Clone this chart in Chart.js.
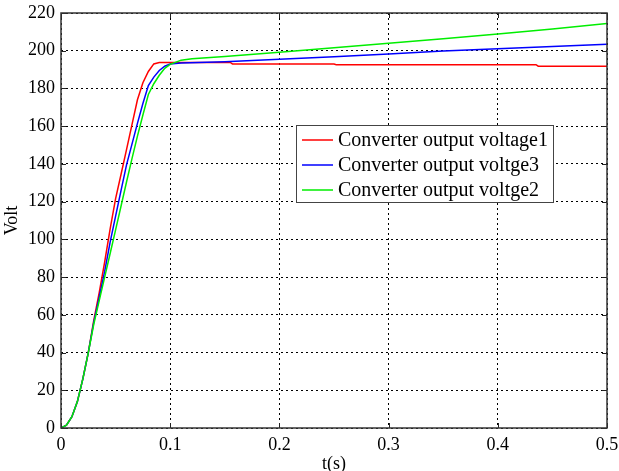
<!DOCTYPE html>
<html>
<head>
<meta charset="utf-8">
<script src="https://cdn.jsdelivr.net/npm/chart.js@4/dist/chart.umd.min.js"></script>
<style>
  html, body { margin: 0; padding: 0; background: #fff; }
  canvas { display: block; }
</style>
</head>
<body>
<canvas id="c" width="619" height="471"></canvas>
<script>
// ---- Data ----
const seriesNames = ["Converter output voltage1", "Converter output voltge3", "Converter output voltge2"];

const redTime = [0, 0.005, 0.01, 0.015, 0.02, 0.025, 0.03, 0.035, 0.04, 0.045, 0.05, 0.055, 0.06, 0.065, 0.07, 0.075, 0.08, 0.085, 0.09, 0.155, 0.157, 0.25, 0.252, 0.435, 0.437, 0.5];
const redVolt = [0, 1.5, 6, 14, 26, 40, 57, 71.8, 88, 105.6, 121.6, 134.5, 147.6, 160.8, 174, 183, 189, 193, 193.8, 193.8, 193, 193, 192.6, 192.6, 191.8, 191.8];

const blueTime = [0, 0.005, 0.01, 0.015, 0.02, 0.025, 0.03, 0.035, 0.04, 0.045, 0.05, 0.055, 0.06, 0.065, 0.07, 0.075, 0.08, 0.085, 0.09, 0.095, 0.1, 0.11, 0.15, 0.2, 0.25, 0.3, 0.35, 0.4, 0.45, 0.5];
const blueVolt = [0, 1.5, 6, 14, 26, 40, 56, 69.3, 83, 98.5, 112.3, 126, 139.5, 150.5, 161.5, 172, 181.5, 186, 189.5, 191.8, 193, 193.5, 194.2, 195.5, 196.8, 198.3, 199.8, 201.1, 202.3, 203.4];

const greenTime = [0, 0.005, 0.01, 0.015, 0.02, 0.025, 0.03, 0.035, 0.04, 0.045, 0.05, 0.055, 0.06, 0.065, 0.07, 0.075, 0.08, 0.085, 0.09, 0.095, 0.1, 0.11, 0.12, 0.15, 0.2, 0.25, 0.3, 0.35, 0.4, 0.45, 0.5];
const greenVolt = [0, 1.5, 6, 14, 26, 40, 55, 67.5, 80, 92.5, 105, 117.7, 130.4, 142.8, 154.7, 165.9, 176.8, 182.5, 187, 190.7, 192.8, 195, 195.8, 197, 199.2, 201.6, 204, 206.3, 208.9, 211.5, 214.4];

const xTicks = [0, 0.1, 0.2, 0.3, 0.4, 0.5];
const yTicks = [0, 20, 40, 60, 80, 100, 120, 140, 160, 180, 200, 220];
const xTitle = "t(s)";
const yTitle = "Volt";

// ---- Build ----
const toPts = (t, v) => t.map((x, i) => ({ x: x, y: v[i] }));
const colors = ["#ff0000", "#0000ff", "#00ee00"];
const FONT = '"Liberation Serif", "Times New Roman", serif';

const frameAndLegend = {
  id: 'frameAndLegend',
  afterDatasetsDraw(chart) {
    const ctx = chart.ctx;
    const ca = chart.chartArea;
    const xs = chart.scales.x, ys = chart.scales.y;
    ctx.save();
    // inward ticks
    ctx.strokeStyle = '#222';
    ctx.lineWidth = 1;
    ctx.setLineDash([]);
    const tl = 5;
    xTicks.forEach(v => {
      const px = Math.round(xs.getPixelForValue(v)) + 0.5;
      ctx.beginPath();
      ctx.moveTo(px, ca.bottom); ctx.lineTo(px, ca.bottom - tl);
      ctx.moveTo(px, ca.top); ctx.lineTo(px, ca.top + tl);
      ctx.stroke();
    });
    yTicks.forEach(v => {
      const py = Math.round(ys.getPixelForValue(v)) + 0.5;
      ctx.beginPath();
      ctx.moveTo(ca.left, py); ctx.lineTo(ca.left + tl, py);
      ctx.moveTo(ca.right, py); ctx.lineTo(ca.right - tl, py);
      ctx.stroke();
    });
    // frame
    ctx.strokeStyle = '#333';
    ctx.lineWidth = 1.5;
    ctx.strokeRect(ca.left, ca.top, ca.right - ca.left, ca.bottom - ca.top);

    // legend box
    const bx = 296, by = 125, bw = 257, bh = 77;
    ctx.fillStyle = '#fff';
    ctx.fillRect(bx, by, bw, bh);
    ctx.strokeStyle = '#444';
    ctx.lineWidth = 1;
    ctx.strokeRect(bx + 0.5, by + 0.5, bw, bh);
    ctx.font = '20px ' + FONT;
    ctx.textBaseline = 'middle';
    ctx.textAlign = 'left';
    seriesNames.forEach((name, i) => {
      const cy = by + 15 + i * 25;
      ctx.strokeStyle = colors[i];
      ctx.lineWidth = 1.5;
      ctx.beginPath();
      ctx.moveTo(bx + 6, cy); ctx.lineTo(bx + 37, cy);
      ctx.stroke();
      ctx.fillStyle = '#000';
      ctx.fillText(name, bx + 42, cy + 1);
    });
    ctx.restore();
  }
};

new Chart(document.getElementById('c'), {
  type: 'line',
  data: {
    datasets: [
      { label: seriesNames[0], data: toPts(redTime, redVolt), borderColor: colors[0], order: 2 },
      { label: seriesNames[1], data: toPts(blueTime, blueVolt), borderColor: colors[1], order: 1 },
      { label: seriesNames[2], data: toPts(greenTime, greenVolt), borderColor: colors[2], order: 0 }
    ]
  },
  options: {
    responsive: false,
    animation: false,
    devicePixelRatio: 1,
    layout: { padding: { top: 13, right: 12, left: 0, bottom: 0 } },
    elements: {
      point: { radius: 0 },
      line: { borderWidth: 1.5, tension: 0, fill: false }
    },
    plugins: { legend: { display: false }, tooltip: { enabled: false } },
    scales: {
      x: {
        type: 'linear', min: 0, max: 0.5,
        afterBuildTicks: s => { s.ticks = xTicks.map(v => ({ value: v })); },
        afterFit: s => { s.height = 43; s.paddingLeft = 0; s.paddingRight = 0; },
        ticks: {
          font: { family: FONT, size: 18 }, color: '#000', padding: 6, maxRotation: 0,
          callback: v => String(Number(v.toFixed(1)))
        },
        grid: { color: '#000', lineWidth: 1, drawTicks: false },
        border: { display: false, dash: [2, 3] },
        title: { display: true, text: xTitle, font: { family: FONT, size: 18 }, color: '#000', padding: { top: 0, bottom: -4 } }
      },
      y: {
        type: 'linear', min: 0, max: 220,
        afterBuildTicks: s => { s.ticks = yTicks.map(v => ({ value: v })); },
        afterFit: s => { s.width = 61; s.paddingTop = 0; s.paddingBottom = 0; },
        ticks: { font: { family: FONT, size: 18 }, color: '#000', padding: 6 },
        grid: { color: '#000', lineWidth: 1, drawTicks: false },
        border: { display: false, dash: [2, 3] },
        title: { display: true, text: yTitle, font: { family: FONT, size: 18 }, color: '#000', padding: { top: 1, bottom: 0 } }
      }
    }
  },
  plugins: [frameAndLegend]
});
</script>
</body>
</html>
